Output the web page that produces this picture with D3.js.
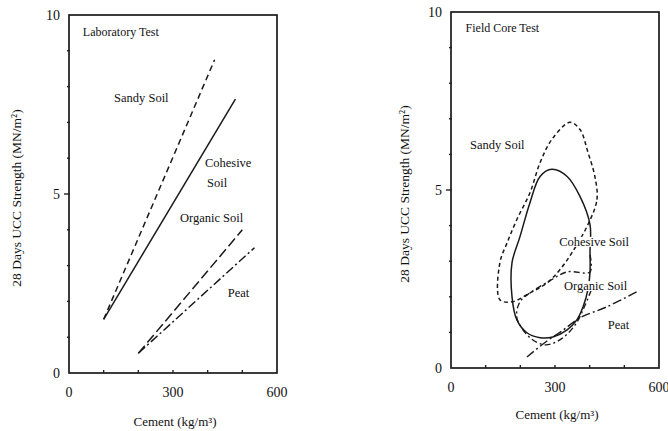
<!DOCTYPE html>
<html>
<head>
<meta charset="utf-8">
<script src="https://cdn.jsdelivr.net/npm/d3@7"></script>
<style>
  body { margin: 0; background: #fff; }
  text { font-family: "Liberation Serif", "DejaVu Serif", serif; fill: #111; }
</style>
</head>
<body>
<div id="chart"></div>
<script>
// Tick labels
const xTickLabels = [0, 300, 600];
const yTickLabels = [0, 5, 10];
const xMinorTicks = [100, 200, 300, 400, 500];
const yMinorTicks = [1, 2, 3, 4, 5, 6, 7, 8, 9];

// Laboratory test: straight lines (cement kg/m3, strength MN/m2)
const labSandy = [[100, 1.5], [420, 8.75]];
const labCohesive = [[100, 1.5], [480, 7.65]];
const labOrganic = [[200, 0.55], [500, 4.0]];
const labPeat = [[200, 0.55], [535, 3.5]];

// Field core test: envelopes
const fieldSandy = [[395, 4.03], [421, 4.73], [415, 5.38], [395, 6.06], [372, 6.70], [343, 6.90],
    [291, 6.42], [257, 5.77], [228, 4.93], [190, 4.17], [162, 3.52], [141, 2.96], [141, 1.92],
    [176, 1.86], [228, 2.11], [277, 2.39], [314, 2.76], [349, 3.24]];
const fieldCohesive = [[401, 4.03], [401, 3.27], [401, 2.70], [395, 2.20], [381, 1.72], [363, 1.35],
    [335, 1.07], [294, 0.87], [257, 0.85], [219, 0.99], [190, 1.35], [176, 2.00], [176, 2.96],
    [199, 3.69], [228, 4.65], [257, 5.38], [291, 5.58], [335, 5.38], [372, 4.82]];
const fieldOrganic = [[401, 3.18], [401, 2.70], [335, 2.70], [280, 2.42], [228, 2.11], [199, 1.86],
    [190, 1.41], [228, 0.85], [271, 0.65], [314, 0.79], [358, 1.21], [387, 1.77], [407, 2.25]];
const fieldPeat = [[219, 0.31], [277, 0.76], [320, 1.04], [372, 1.41], [450, 1.72], [536, 2.14]];

const width = 668, height = 431;

const svg = d3.select("#chart")
    .append("svg")
    .attr("width", width)
    .attr("height", height);

// Disegno un pannello (cornice, tacche, etichette)
function drawPanel(x, y, title, titlePos, yLabelX, xLabelY) {
    const g = svg.append("g");
    const x0 = x.range()[0], x1 = x.range()[1];
    const y0 = y.range()[0], y1 = y.range()[1];

    // Cornice
    g.append("rect")
        .attr("x", x0).attr("y", y1)
        .attr("width", x1 - x0).attr("height", y0 - y1)
        .attr("fill", "none")
        .attr("stroke", "#1a1a1a")
        .attr("stroke-width", 1.7);

    // Tacche asse y
    g.selectAll(".ytick")
        .data(yMinorTicks)
        .join("line")
        .attr("x1", d => x0 - (d == 5 ? 5 : 2)).attr("x2", x0 + 1)
        .attr("y1", d => y(d)).attr("y2", d => y(d))
        .attr("stroke", "#222").attr("stroke-width", 1.4);

    // Tacche asse x
    g.selectAll(".xtick")
        .data(xMinorTicks)
        .join("line")
        .attr("x1", d => x(d)).attr("x2", d => x(d))
        .attr("y1", y0).attr("y2", y0 - 3)
        .attr("stroke", "#222").attr("stroke-width", 1.4);

    // Etichette
    g.selectAll(".xlab")
        .data(xTickLabels)
        .join("text")
        .attr("x", d => x(d)).attr("y", y0 + 24)
        .attr("text-anchor", "middle")
        .style("font-size", "14px")
        .text(d => d);
    g.selectAll(".ylab")
        .data(yTickLabels)
        .join("text")
        .attr("x", x0 - 9).attr("y", d => y(d) + 5)
        .attr("text-anchor", "end")
        .style("font-size", "14px")
        .text(d => d);

    g.append("text")
        .attr("x", x(titlePos[0])).attr("y", y(titlePos[1]))
        .style("font-size", "12px")
        .text(title);

    g.append("text")
        .attr("transform", "translate(" + yLabelX + "," + ((y0 + y1) / 2 + 4) + ") rotate(-90)")
        .attr("text-anchor", "middle")
        .style("font-size", "13.5px")
        .text("28 Days UCC Strength (MN/m²)");

    g.append("text")
        .attr("x", (x0 + x1) / 2 + 2).attr("y", xLabelY)
        .attr("text-anchor", "middle")
        .style("font-size", "13px")
        .text("Cement (kg/m³)");
    return g;
}

// Etichetta con sfondo bianco
function addLabel(x, y, pos, txt, masked) {
    const t = svg.append("text")
        .attr("x", x(pos[0])).attr("y", y(pos[1]))
        .style("font-size", "12.5px")
        .text(txt);
    if (masked) {
        const b = t.node().getBBox();
        svg.insert("rect", () => t.node())
            .attr("x", b.x - 1).attr("y", b.y + 2)
            .attr("width", b.width + 2).attr("height", b.height - 4)
            .attr("fill", "#fff");
    }
}

// Pannello sinistro: prova di laboratorio
const xLab = d3.scaleLinear().domain([0, 600]).range([69, 277]);
const yLab = d3.scaleLinear().domain([0, 10]).range([373, 15]);
drawPanel(xLab, yLab, "Laboratory Test", [40, 9.42], 21, 426);

const labLine = d3.line().x(d => xLab(d[0])).y(d => yLab(d[1]));
const labSeries = [
    { data: labSandy, dash: "6,4" },
    { data: labCohesive, dash: null },
    { data: labOrganic, dash: "10,4" },
    { data: labPeat, dash: "9,3,2,3" }
];
svg.append("g")
    .selectAll("path")
    .data(labSeries)
    .join("path")
    .attr("d", d => labLine(d.data))
    .attr("fill", "none")
    .attr("stroke", "#1a1a1a")
    .attr("stroke-width", 1.5)
    .attr("stroke-dasharray", d => d.dash);

addLabel(xLab, yLab, [130, 7.57], "Sandy Soil");
addLabel(xLab, yLab, [392, 5.75], "Cohesive");
addLabel(xLab, yLab, [398, 5.2], "Soil");
addLabel(xLab, yLab, [320, 4.22], "Organic Soil");
addLabel(xLab, yLab, [458, 2.12], "Peat");

// Pannello destro: carote in sito
const xField = d3.scaleLinear().domain([0, 600]).range([451, 659]);
const yField = d3.scaleLinear().domain([0, 10]).range([368, 12]);
drawPanel(xField, yField, "Field Core Test", [42, 9.44], 409, 419);

const fieldLine = d3.line()
    .x(d => xField(d[0])).y(d => yField(d[1]))
    .curve(d3.curveCatmullRom.alpha(0.5));
const fieldLoop = d3.line()
    .x(d => xField(d[0])).y(d => yField(d[1]))
    .curve(d3.curveCatmullRomClosed.alpha(0.5));

svg.append("path")
    .attr("d", fieldLoop(fieldSandy))
    .attr("fill", "none").attr("stroke", "#1a1a1a").attr("stroke-width", 1.5)
    .attr("stroke-dasharray", "4,3");
svg.append("path")
    .attr("d", fieldLoop(fieldCohesive))
    .attr("fill", "none").attr("stroke", "#1a1a1a").attr("stroke-width", 1.5);
svg.append("path")
    .attr("d", fieldLine(fieldOrganic))
    .attr("fill", "none").attr("stroke", "#1a1a1a").attr("stroke-width", 1.4)
    .attr("stroke-dasharray", "6,3,2,3");
svg.append("path")
    .attr("d", fieldLine(fieldPeat))
    .attr("fill", "none").attr("stroke", "#1a1a1a").attr("stroke-width", 1.4)
    .attr("stroke-dasharray", "9,3,2,3");

addLabel(xField, yField, [55, 6.15], "Sandy Soil", true);
addLabel(xField, yField, [312, 3.43], "Cohesive Soil", true);
addLabel(xField, yField, [326, 2.19], "Organic Soil", true);
addLabel(xField, yField, [452, 1.1], "Peat", true);
</script>
</body>
</html>
